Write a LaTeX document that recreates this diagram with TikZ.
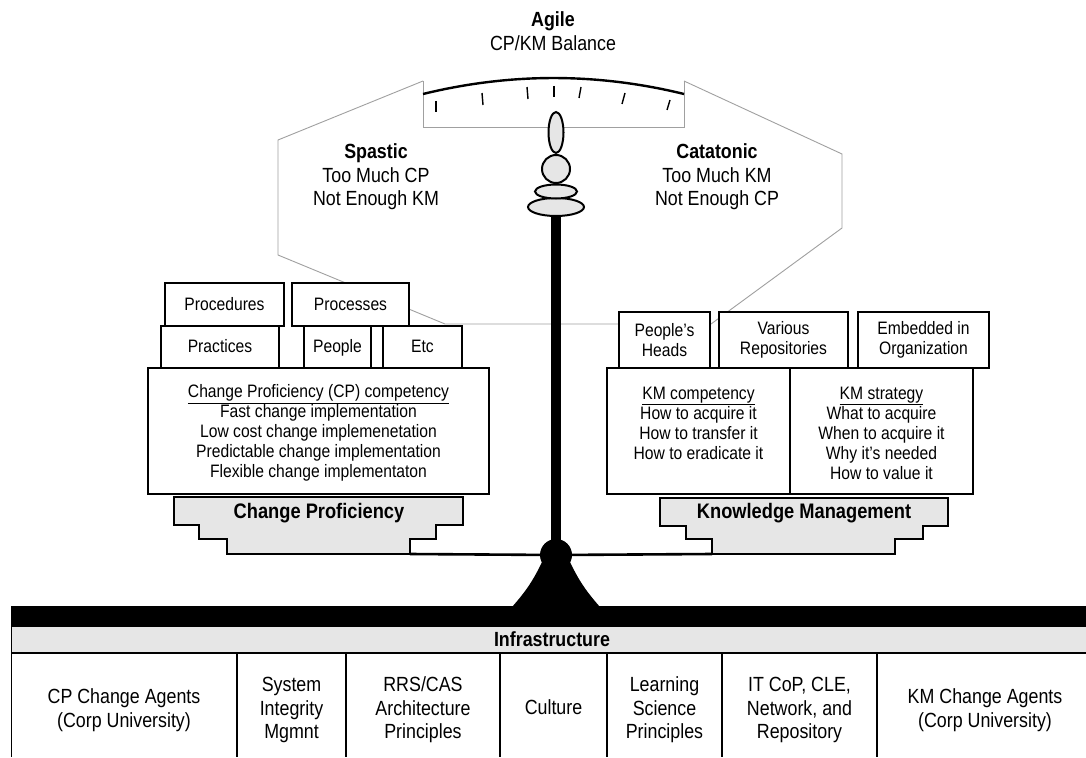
\documentclass[tikz,border=0pt]{standalone}
\usepackage{fontspec}
\setmainfont{Liberation Sans}[FakeStretch=0.87]
\definecolor{basegray}{HTML}{E6E6E6}
\definecolor{linegray}{HTML}{A0A0A0}
\begin{document}
\begin{tikzpicture}[x=1pt,y=-1pt,
  box/.style={draw=black, line width=1.1pt, fill=white, inner sep=0pt},
  txt/.style={align=center, inner sep=0pt, font=\fontsize{18}{20}\selectfont},
  sline/.style={txt, text height=14pt, text depth=2.5pt},
  big/.style={align=center, inner sep=0pt, font=\fontsize{20.5}{23.5}\selectfont},
  cell/.style={align=center, inner sep=0pt, font=\fontsize{20.5}{23.5}\selectfont},
  onecell/.style={cell, text height=16pt, text depth=3pt},
  baselabel/.style={inner sep=0pt, text height=16pt, text depth=3.5pt, font=\fontsize{21}{24}\selectfont\bfseries},
  basestyle/.style={draw=black, line width=2.4pt, fill=basegray},
  bob/.style={draw=black, line width=2pt, fill=basegray},
  guide/.style={draw=linegray, line width=0.9pt},
  tick/.style={draw=black, line width=1.4pt},
]
\useasboundingbox (0,0) rectangle (1086,757);
\fill[white] (0,0) rectangle (1086,757);

% guide outline and dial
\draw[guide] (423,81) -- (278,140) -- (278,255) -- (445,324) -- (711,324) -- (842,228) -- (842,154) -- (684,81);
\draw[guide] (423,81) -- (423,127) -- (684,127) -- (684,81);
\draw[line width=2.4pt] (423,94) .. controls (510,72.7) and (597,72.7) .. (684,94);
\draw[tick] (436,101) -- (436,112);
\draw[tick] (482,93) -- (483,105);
\draw[tick] (527,87) -- (528,99);
\draw[tick] (554,86) -- (554,97);
\draw[tick] (581,87) -- (579,98);
\draw[tick] (625,93) -- (622,104);
\draw[tick] (670,100) -- (667,110);

% titles
\node[big] (agile) at (553,31) {\textbf{Agile}\\CP/KM Balance};
\node[big] (spastic) at (376,177) {\textbf{Spastic}\\Too Much CP\\Not Enough KM};
\node[big] (catatonic) at (717,177) {\textbf{Catatonic}\\Too Much KM\\Not Enough CP};

% CP side boxes
\node[box, minimum width=119, minimum height=43] (procedures) at (224.5,304.5) {};
\node[sline] at (procedures) {Procedures};
\node[box, minimum width=117, minimum height=43] (processes) at (350.5,304.5) {};
\node[sline] at (processes) {Processes};
\node[box, minimum width=118, minimum height=42] (practices) at (220,347) {};
\node[sline] at (practices) {Practices};
\node[box, minimum width=67, minimum height=42] (people) at (337.5,347) {};
\node[sline] at (people) {People};
\node[box, minimum width=79, minimum height=42] (etc) at (422.5,347) {};
\node[sline] at (etc) {Etc};
\node[box, minimum width=341, minimum height=126] (cpbox) at (318.5,431) {};
\node[txt] (cptext) at (318.5,433) {\underline{Change Proficiency (CP) competency}\\Fast change implementation\\Low cost change implemenetation\\Predictable change implementation\\Flexible change implementaton};

% KM side boxes
\node[box, minimum width=91, minimum height=56] (heads) at (664.5,340) {};
\node[txt] at (heads) {People's\\Heads};
\node[box, minimum width=129, minimum height=56] (repos) at (783.5,340) {};
\node[txt] at (repos) {Various\\Repositories};
\node[box, minimum width=131, minimum height=56] (embedded) at (923.5,340) {};
\node[txt] at (embedded) {Embedded in\\Organization};
\node[box, minimum width=183, minimum height=126] (kmcomp) at (698.5,431) {};
\node[txt] (kmctext) at (698.5,423) {\underline{KM competency}\\How to acquire it\\How to transfer it\\How to eradicate it};
\node[box, minimum width=183, minimum height=126] (kmstrat) at (881.5,431) {};
\node[txt] (kmstext) at (881.5,433) {\underline{KM strategy}\\What to acquire\\When to acquire it\\Why it's needed\\How to value it};

% bases
\draw[basestyle] (174,497) -- (463,497) -- (463,525) -- (436,525) -- (436,539) -- (410,539) -- (410,554) -- (227,554) -- (227,539) -- (199,539) -- (199,525) -- (174,525) -- cycle;
\node[baselabel] (cpbase) at (319,512) {Change Proficiency};
\draw[basestyle] (660,498) -- (948,498) -- (948,526) -- (923,526) -- (923,539) -- (895,539) -- (895,554) -- (712,554) -- (712,539) -- (686,539) -- (686,526) -- (660,526) -- cycle;
\node[baselabel] (kmbase) at (804,512) {Knowledge Management};

% pole, hub, beam, fulcrum
\node[circle, fill=black, minimum size=32, inner sep=0pt] (hub) at (556,555) {};
\coordinate (poletop) at (556,205);
\draw[line width=10pt] (poletop) -- (hub.center);
\coordinate (cpfoot) at (410,554);
\coordinate (kmfoot) at (712,554);
\draw[line width=2.6pt] (cpfoot) -- (hub);
\draw[line width=2.6pt] (hub) -- (kmfoot);
\fill (543,560) to[bend left=8] (512,607) -- (600,607) to[bend left=8] (569,560) -- cycle;

% bob
\draw[bob] (556,207) ellipse [x radius=28, y radius=9];
\draw[bob] (556,191.5) ellipse [x radius=21, y radius=7];
\draw[bob] (556,169) circle [radius=14];
\draw[bob] (556,132.5) ellipse [x radius=7.5, y radius=20.5];

% infrastructure
\fill (11,606) rectangle (1086,627);
\fill[basegray] (11,627) rectangle (1086,653);
\draw[line width=1.2pt] (11,653) -- (1086,653);
\draw[line width=1.2pt] (11.5,627) -- (11.5,757);
\node[onecell] (infra) at (552,640) {\textbf{Infrastructure}};
\foreach \xx in {237,346,500,607,722,877} {
  \draw[line width=1.2pt] (\xx,653) -- (\xx,757);
}
\node[cell] (c1) at (124,710) {CP Change Agents\\(Corp University)};
\node[cell] (c2) at (291.5,710) {System\\Integrity\\Mgmnt};
\node[cell] (c3) at (423,710) {RRS/CAS\\Architecture\\Principles};
\node[onecell] (c4) at (553.5,708) {Culture};
\node[cell] (c5) at (664.5,710) {Learning\\Science\\Principles};
\node[cell] (c6) at (799.5,710) {IT CoP, CLE,\\Network, and\\Repository};
\node[cell] (c7) at (985,710) {KM Change Agents\\(Corp University)};
\end{tikzpicture}
\end{document}
